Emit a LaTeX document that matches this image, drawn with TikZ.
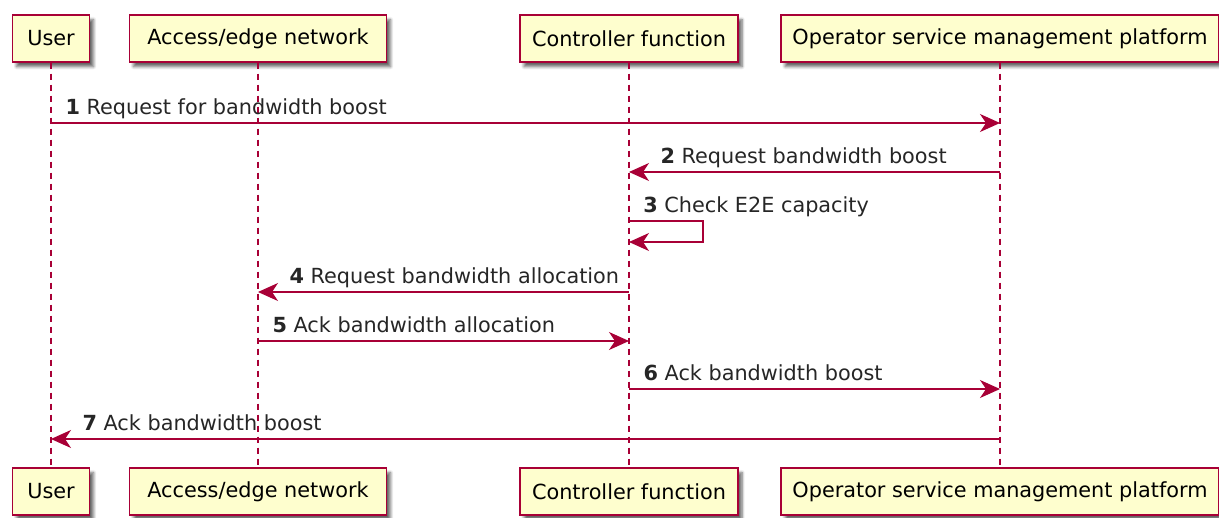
\documentclass[tikz,border=0pt]{standalone}
\usepackage{fontspec}
\setmainfont{DejaVu Sans}
\usepackage{tikz}
\usetikzlibrary{arrows.meta,shadows.blur}
\definecolor{pline}{HTML}{A80036}
\definecolor{pfill}{HTML}{FEFECE}

\begin{document}
\begin{tikzpicture}[
  x=0.75pt,y=-0.75pt,
  font=\fontsize{15.6}{18}\selectfont,
  pt/.style={draw=pline,fill=pfill,line width=1.1pt,minimum height=35.25pt,
             inner sep=0pt,blur shadow={shadow xshift=3pt,shadow yshift=-3.5pt,
             shadow blur steps=6,shadow opacity=60}},
  life/.style={draw=pline,line width=0.8pt,dash pattern=on 4.5pt off 3.75pt},
  msg/.style={draw=pline,line width=0.8pt,
              -{Stealth[length=15pt,width=13.5pt,inset=4.5pt]}},
  lbl/.style={anchor=base west,inner sep=0pt,yshift=6.4pt,text=black!85}
]
\useasboundingbox (0,0) rectangle (1219,517);
% participants
\node[pt,minimum width=57.75pt] (user) at (51,38.5) {User};
\node[pt,minimum width=192.75pt] (acc) at (258,38.5) {Access/edge network};
\node[pt,minimum width=163.5pt] (ctl) at (629,38.5) {Controller function};
\node[pt,minimum width=328.5pt] (osm) at (1000,38.5) {Operator service management platform};
\node[pt,minimum width=57.75pt] (userb) at (51,491.5) {User};
\node[pt,minimum width=192.75pt] (accb) at (258,491.5) {Access/edge network};
\node[pt,minimum width=163.5pt] (ctlb) at (629,491.5) {Controller function};
\node[pt,minimum width=328.5pt] (osmb) at (1000,491.5) {Operator service management platform};

% lifelines
\draw[life] (user) -- (userb);
\draw[life] (acc) -- (accb);
\draw[life] (ctl) -- (ctlb);
\draw[life] (osm) -- (osmb);

% message rows
\coordinate (r1) at (0,123);
\coordinate (r2) at (0,172);
\coordinate (r3) at (0,221);
\coordinate (r3b) at (0,242);
\coordinate (r4) at (0,292);
\coordinate (r5) at (0,341);
\coordinate (r6) at (0,389);
\coordinate (r7) at (0,439);

% messages
\draw[msg] (user |- r1) -- (osm |- r1)
  node[lbl,pos=0,xshift=10.5pt] {\textbf{1} Request for bandwidth boost};
\draw[msg] (osm |- r2) -- (ctl |- r2)
  node[lbl,pos=1,xshift=23.25pt] {\textbf{2} Request bandwidth boost};
\draw[msg] (ctl |- r3) -- ++(74,0) |- (ctl |- r3b);
\node[lbl,xshift=10.5pt] (l3) at (ctl |- r3) {\textbf{3} Check E2E capacity};
\draw[msg] (ctl |- r4) -- (acc |- r4)
  node[lbl,pos=1,xshift=23.25pt] {\textbf{4} Request bandwidth allocation};
\draw[msg] (acc |- r5) -- (ctl |- r5)
  node[lbl,pos=0,xshift=10.5pt] {\textbf{5} Ack bandwidth allocation};
\draw[msg] (ctl |- r6) -- (osm |- r6)
  node[lbl,pos=0,xshift=10.5pt] {\textbf{6} Ack bandwidth boost};
\draw[msg] (osm |- r7) -- (user |- r7)
  node[lbl,pos=1,xshift=23.25pt] {\textbf{7} Ack bandwidth boost};
\end{tikzpicture}
\end{document}
